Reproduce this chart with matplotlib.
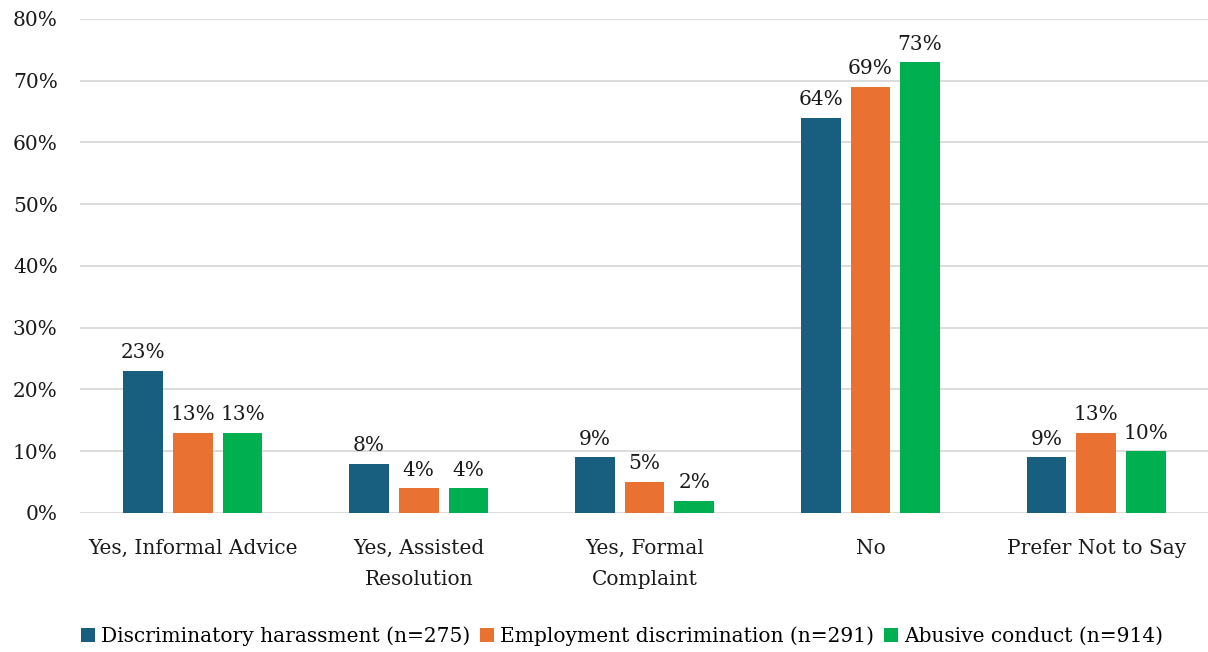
import numpy as np
from matplotlib import pyplot as plt

categories = ["Yes, Informal Advice", "Yes, Assisted\nResolution", "Yes, Formal\nComplaint", "No", "Prefer Not to Say"]
series_names = ["Discriminatory harassment (n=275)", "Employment discrimination (n=291)", "Abusive conduct (n=914)"]
harassment = [23, 8, 9, 64, 9]
discrimination = [13, 4, 5, 69, 13]
abusive = [13, 4, 2, 73, 10]
colors = ["#185E7E", "#E97132", "#00B050"]

plt.rcParams['font.family'] = ['DejaVu Serif']
txt = "#1A1A1A"

fig = plt.figure(figsize=(12.08, 6.52), dpi=100)
ax = fig.add_axes([0.0662, 0.2132, 0.9348, 0.7577])

x = np.arange(len(categories))
width = 0.176
offset = 0.22
for i, (vals, name) in enumerate(zip([harassment, discrimination, abusive], series_names)):
    bars = ax.bar(x + (i - 1) * offset, vals, width, color=colors[i], label=name, zorder=3)
    for b, v in zip(bars, vals):
        ax.text(b.get_x() + b.get_width() / 2, v + 1.4, f"{v}%", ha="center", va="bottom",
                fontsize=14.5, color=txt)

ax.set_xlim(-0.5, len(categories) - 0.5)
ax.set_ylim(0, 80)
ax.set_yticks(range(0, 81, 10))
ax.set_yticklabels([f"{t}%" for t in range(0, 81, 10)], fontsize=14.5, color=txt)
ax.set_xticks(x)
ax.set_xticklabels(categories, fontsize=14.5, color=txt, va="top", linespacing=1.75)
ax.tick_params(axis="both", length=0)
ax.tick_params(axis="x", pad=19)
ax.tick_params(axis="y", pad=16)
ax.yaxis.grid(True, color="#D9D9D9", linewidth=1.3, zorder=0)
for s in ax.spines.values():
    s.set_visible(False)

fig.legend(loc="lower center", bbox_to_anchor=(0.515, -0.018), ncol=3, frameon=False,
           fontsize=14.5, handlelength=0.7, handleheight=0.7, handletextpad=0.3, columnspacing=0.5)

fig.savefig("out.png", dpi=100)
